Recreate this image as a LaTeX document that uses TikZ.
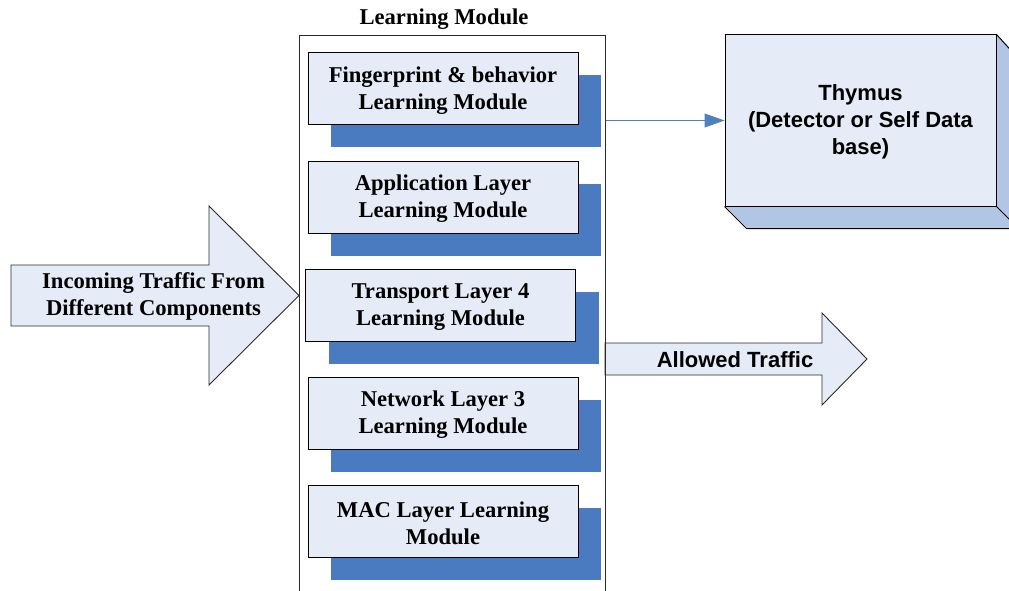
\documentclass[tikz,border=0pt]{standalone}
\usepackage{fontspec}
\setmainfont{Liberation Serif}
\setsansfont{Liberation Sans}
\usetikzlibrary{arrows.meta,shadows}
\definecolor{facefill}{HTML}{E6ECF7}
\definecolor{moduleblue}{HTML}{4A7BC0}
\definecolor{sideblue}{HTML}{B1C5E5}
\definecolor{edgegray}{HTML}{2A2A2A}
\definecolor{linkblue}{HTML}{4F81BD}

\begin{document}
\begin{tikzpicture}[x=1pt,y=-1pt,
  serifbold/.style={font=\fontsize{22.6}{27}\selectfont\bfseries, align=center, inner sep=0pt},
  sansbold/.style={font=\fontsize{22}{27}\selectfont\sffamily\bfseries, align=center, inner sep=0pt},
  modbox/.style={draw=black, line width=1pt, fill=facefill,
    minimum width=270pt, minimum height=72pt, inner sep=0pt,
    general shadow={shadow xshift=23pt, shadow yshift=-22.5pt, fill=moduleblue},
    label={[serifbold, yshift=-1.8pt]center:#1}},
  blockarrow/.style={draw=edgegray, line width=0.9pt, fill=facefill, line join=miter},
  face/.style={draw=black, line width=1pt, line join=miter},
  link/.style={draw=linkblue, line width=1pt, -{Triangle[length=20pt,width=14pt]}}
]
\useasboundingbox (0,0) rectangle (1009,591);
\clip (0,0) rectangle (1009,591);

% incoming traffic block arrow
\draw[blockarrow] (11,265) -- (209,265) -- (209,206) -- (299,295.5) -- (209,385)
  -- (209,326) -- (11,326) -- cycle;
\node[serifbold] (incoming) at (153.5,296.5) {Incoming Traffic From\\Different Components};

% allowed traffic block arrow
\draw[blockarrow] (605,343) -- (822,343) -- (822,313) -- (867,359) -- (822,405)
  -- (822,375) -- (605,375) -- cycle;
\node[sansbold] (allowed) at (735,359.5) {Allowed Traffic};

% learning module container
\node[serifbold] (title) at (444,19) {Learning Module};
\node[draw=edgegray, line width=1.1pt, minimum width=306pt, minimum height=600pt,
  anchor=north west, inner sep=0pt] (cont) at (299,35) {};

% stacked learning modules
\node[modbox={Fingerprint \& behavior\\Learning Module}] (m1) at (443,89) {};
\node[modbox={Application Layer\\Learning Module}] (m2) at (443,197) {};
\node[modbox={Transport Layer 4\\Learning Module}] (m3) at (440.5,305) {};
\node[modbox={Network Layer 3\\Learning Module}] (m4) at (443,413) {};
\node[modbox={MAC Layer Learning\\Module}] (m5) at (443,521) {};

% thymus 3D box
\fill[sideblue] (725,206) -- (996,206) -- (1018,228) -- (747,228) -- cycle;
\fill[sideblue] (996,35) -- (1018,57) -- (1018,228) -- (996,206) -- cycle;
\node[draw=black, line width=1pt, fill=facefill, inner sep=0pt,
  minimum width=271pt, minimum height=171pt,
  label={[sansbold, yshift=-1.5pt]center:Thymus\\(Detector or Self Data\\base)}]
  (thy) at (860.5,120.5) {};
\draw[face] (thy.south west) -- ++(22,22) -- ++(271,0) -- ++(0,-171) -- (thy.north east);
\draw[face] (thy.south east) -- ++(22,22);

% link to the thymus
\draw[link] (cont.east |- thy.west) -- (thy.west);
\end{tikzpicture}
\end{document}
